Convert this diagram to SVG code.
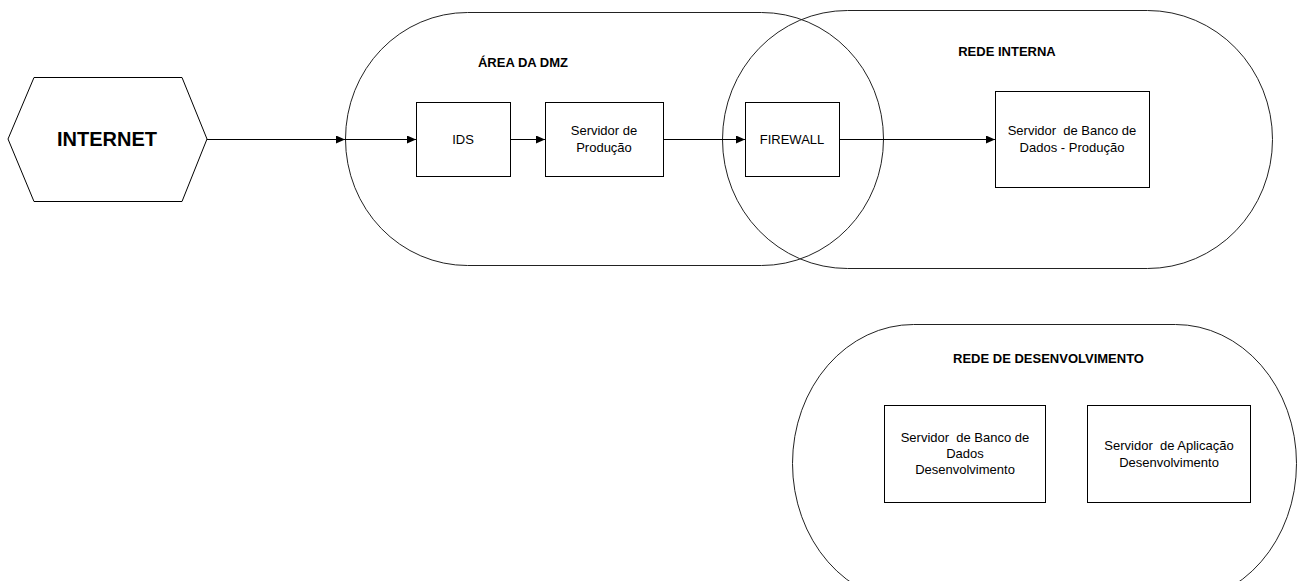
<svg xmlns="http://www.w3.org/2000/svg" width="1298" height="581" viewBox="0 0 1298 581">
<style>
.zone{fill:none;stroke:#222;stroke-width:1}
.box{fill:#fff;stroke:#000;stroke-width:1}
.t{font-family:"Liberation Sans",Arial,sans-serif;font-size:13px;fill:#000;text-anchor:middle;white-space:pre}
.b{font-weight:bold}
.edge{stroke:#000;stroke-width:1;fill:none;marker-end:url(#arr)}
</style>
<defs>
<marker id="arr" markerWidth="9" markerHeight="8" refX="9" refY="4" orient="auto" markerUnits="userSpaceOnUse">
<path d="M0,0 L9,4 L0,8 Z" fill="#000"/>
</marker>
</defs>
<g id="zone-dmz">
<rect class="zone" x="345.5" y="12.5" width="538" height="253" rx="122" ry="126.5"/>
<text class="t b" x="523" y="67">ÁREA DA DMZ</text>
</g>
<g id="zone-interna">
<rect class="zone" x="722.5" y="10.5" width="550" height="258" rx="125" ry="129"/>
<text class="t b" x="1007" y="56">REDE INTERNA</text>
</g>
<g id="zone-dev">
<rect class="zone" x="792.5" y="324.5" width="504" height="278" rx="121" ry="139"/>
<text class="t b" x="1048.5" y="363">REDE DE DESENVOLVIMENTO</text>
</g>
<g id="internet">
<polygon class="box" points="34,77.5 182,77.5 207,139 182,201.5 34,201.5 8,139"/>
<text class="t b" x="107" y="146" style="font-size:20px">INTERNET</text>
</g>
<g id="ids">
<rect class="box" x="416.5" y="102.5" width="94" height="74"/>
<text class="t" x="463" y="144">IDS</text>
</g>
<g id="servidor-producao">
<rect class="box" x="545.5" y="102.5" width="118" height="74"/>
<text class="t" x="604" y="135">Servidor de</text>
<text class="t" x="604" y="152">Produção</text>
</g>
<g id="firewall">
<rect class="box" x="745.5" y="102.5" width="94" height="74"/>
<text class="t" x="792" y="144">FIREWALL</text>
</g>
<g id="db-producao">
<rect class="box" x="995.5" y="91.5" width="154" height="96"/>
<text class="t" x="1072" y="135">Servidor  de Banco de</text>
<text class="t" x="1072" y="152">Dados - Produção</text>
</g>
<g id="db-dev">
<rect class="box" x="884.5" y="405.5" width="161" height="97"/>
<text class="t" x="965" y="442">Servidor  de Banco de</text>
<text class="t" x="965" y="458">Dados</text>
<text class="t" x="965" y="474">Desenvolvimento</text>
</g>
<g id="app-dev">
<rect class="box" x="1087.5" y="405.5" width="163" height="97"/>
<text class="t" x="1169" y="450">Servidor  de Aplicação</text>
<text class="t" x="1169" y="467">Desenvolvimento</text>
</g>
<g id="connectors">
<line class="edge" x1="207" y1="139.5" x2="345" y2="139.5"/>
<line class="edge" x1="345" y1="139.5" x2="416" y2="139.5"/>
<line class="edge" x1="510" y1="139.5" x2="545" y2="139.5"/>
<line class="edge" x1="663" y1="139.5" x2="745" y2="139.5"/>
<line class="edge" x1="839" y1="139.5" x2="995" y2="139.5"/>
</g>
</svg>
